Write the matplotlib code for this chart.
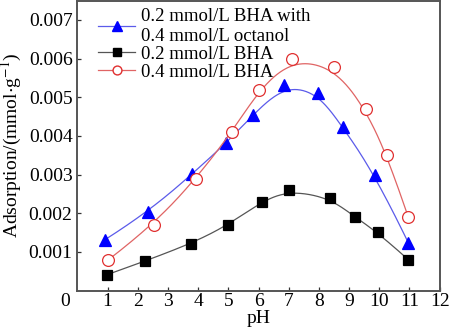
import numpy as np
import matplotlib.pyplot as plt

plt.rcParams['font.family'] = ['Liberation Serif', 'DejaVu Serif']
plt.rcParams['mathtext.fontset'] = 'stix'

# data
ph_oct = [0.92, 2.33, 3.81, 4.92, 5.81, 6.86, 7.97, 8.79, 9.87, 10.96]
ads_oct = [0.00132, 0.00202, 0.00302, 0.00381, 0.00454, 0.00532, 0.00512, 0.00422, 0.00300, 0.00124]

ph_02 = [0.98, 2.23, 3.75, 5.00, 6.10, 7.00, 8.38, 9.18, 9.95, 10.96]
ads_02 = [0.00041, 0.00076, 0.00120, 0.00170, 0.00230, 0.00260, 0.00240, 0.00190, 0.00151, 0.00080]

ph_04 = [1.03, 2.53, 3.92, 5.11, 6.01, 7.10, 8.50, 9.57, 10.26, 10.96]
ads_04 = [0.00080, 0.00170, 0.00288, 0.00409, 0.00519, 0.00599, 0.00579, 0.00469, 0.00351, 0.00190]

xticks = list(range(1, 13))
yticks = [0.001, 0.002, 0.003, 0.004, 0.005, 0.006, 0.007]


def bspline(xs, ys, n=300):
    # clamped cubic B-spline with the points as control points (Origin style)
    pts = np.column_stack([xs, ys])
    k = 3
    m = len(pts)
    knots = np.concatenate([np.zeros(k), np.linspace(0, 1, m - k + 1), np.ones(k)])
    out = []
    for t in np.linspace(0, 1, n):
        if t >= 1:
            out.append(pts[-1])
            continue
        j = np.searchsorted(knots, t, side='right') - 1
        d = [pts[j - k + i].copy() for i in range(k + 1)]
        for r in range(1, k + 1):
            for i in range(k, r - 1, -1):
                idx = j - k + i
                a = (t - knots[idx]) / (knots[idx + k + 1 - r] - knots[idx])
                d[i] = (1 - a) * d[i - 1] + a * d[i]
        out.append(d[k])
    out = np.array(out)
    return out[:, 0], out[:, 1]


fig = plt.figure(figsize=(4.5, 3.34), dpi=100)
ax = fig.add_axes([0.172, 0.13, 0.805, 0.868])

series = [
    (ph_oct, ads_oct, '#5b5bea', '#0000ff', '#0000ff', '^', 9, '0.2 mmol/L BHA with\n0.4 mmol/L octanol'),
    (ph_02, ads_02, '#555555', '#000000', '#000000', 's', 7.5, '0.2 mmol/L BHA'),
    (ph_04, ads_04, '#e06464', 'white', '#e03030', 'o', 8.5, '0.4 mmol/L BHA'),
]
for xs, ys, lc, fc, ec, mk, ms, lab in series:
    sx, sy = bspline(xs, ys)
    ax.plot(sx, sy, color=lc, lw=0.9)
    ax.plot(xs, ys, linestyle='none', marker=mk, ms=ms, mfc=fc, mec=ec, mew=0.9)
    ax.plot([], [], color=lc, lw=0.9, marker=mk, ms=ms * 0.75, mfc=fc, mec=ec, label=lab)

ax.set_xlim(0, 12)
ax.set_ylim(0, 0.0075)
ax.set_xticks(xticks)
ax.set_yticks(yticks)
ax.set_yticklabels([f'{v:.3f}' for v in yticks])
ax.tick_params(direction='in', length=3, width=0.9, labelsize=14, colors='#333333',
               labelcolor='black')
ax.tick_params(axis='x', pad=2)
for s in ax.spines.values():
    s.set_color('#555555')
    s.set_linewidth(1.4)

ax.text(-0.02, -0.01, '0', transform=ax.transAxes, ha='right', va='top', fontsize=14)
ax.set_xlabel('pH', fontsize=14, labelpad=0)
ax.set_ylabel('Adsorption/(mmol$\\cdot$g$^{-1}$)', fontsize=14, labelpad=3)

ax.legend(loc='upper left', bbox_to_anchor=(0.02, 1.02), frameon=False, fontsize=13.5,
          handlelength=2.0, handletextpad=0.3, labelspacing=0.05, borderaxespad=0.3)

fig.savefig('out.png', dpi=100)
